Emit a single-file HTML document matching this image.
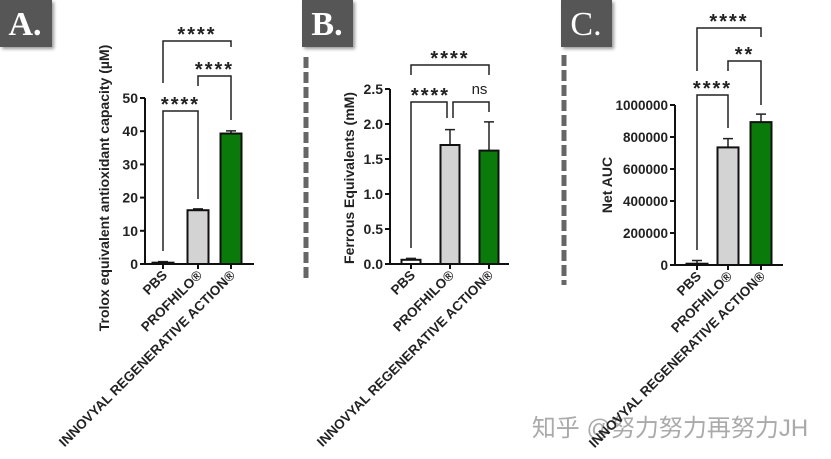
<!DOCTYPE html>
<html><head><meta charset="utf-8"><style>
body{margin:0;width:831px;height:459px;background:#fff;overflow:hidden;font-family:"Liberation Sans",sans-serif}
svg{position:absolute;left:0;top:0}
</style></head><body>
<svg id="s" width="831" height="459">
<defs><filter id="sh" x="-20%" y="-20%" width="150%" height="150%"><feDropShadow dx="2" dy="2" stdDeviation="1.5" flood-color="#000" flood-opacity="0.4"/></filter></defs>
<g><rect x="0" y="0" width="52" height="47" fill="#575757" filter="url(#sh)"/><text x="25" y="35" fill="#fff" font-family="Liberation Serif,serif" font-size="34" font-weight="bold" text-anchor="middle">A.</text></g>
<g><rect x="302" y="0" width="51" height="47" fill="#575757" filter="url(#sh)"/><text x="327" y="35" fill="#fff" font-family="Liberation Serif,serif" font-size="34" font-weight="bold" text-anchor="middle">B.</text></g>
<g><rect x="561" y="0" width="51" height="47" fill="#575757" filter="url(#sh)"/><text x="586" y="35" fill="#fff" font-family="Liberation Serif,serif" font-size="34" text-anchor="middle">C.</text></g>
<line x1="306" y1="57" x2="306" y2="282" stroke="#666" stroke-width="5" stroke-dasharray="11,4"/>
<line x1="564" y1="55" x2="564" y2="285" stroke="#666" stroke-width="5" stroke-dasharray="11,4"/>
<text x="670" y="436" fill="#aaa" font-size="24" text-anchor="middle" font-family="Liberation Sans,'Noto Sans CJK SC',sans-serif">知乎 @努力努力再努力JH</text>
</svg>
<script>
const categories=["PBS","PROFHILO®","INNOVYAL REGENERATIVE ACTION®"];
const colors=["#ffffff","#d3d3d3","#0a7a0a"];
const aValues=[0.4,16.2,39.3];
const aErrors=[0.3,0.4,0.8];
const aTicks=[0,10,20,30,40,50];
const bValues=[0.06,1.70,1.62];
const bErrors=[0.02,0.22,0.41];
const bTicks=["0.0","0.5","1.0","1.5","2.0","2.5"];
const cValues=[8000,735000,893000];
const cErrors=[20000,55000,50000];
const cTicks=[0,200000,400000,600000,800000,1000000];
const aSig=[[0,1,"****"],[1,2,"****"],[0,2,"****"]];
const bSig=[[0,1,"****"],[1,2,"ns"],[0,2,"****"]];
const cSig=[[0,1,"****"],[1,2,"**"],[0,2,"****"]];
const NS="http://www.w3.org/2000/svg";
const svg=document.getElementById('s');
function mk(t,a,p){const e=document.createElementNS(NS,t);for(const k in a)e.setAttribute(k,a[k]);(p||svg).appendChild(e);return e;}
function panel(cfg){
 const g=mk('g',{});
 
 
 const ymax=+cfg.ticks[cfg.ticks.length-1];
 const y=v=>cfg.y0-(v/ymax)*(cfg.y0-cfg.ytop);
 const x=i=>cfg.xc[i];
 const ax=mk('path',{d:`M${cfg.ax},${cfg.ytop}V${cfg.y0}H${cfg.axEnd}`,stroke:'#111','stroke-width':2,fill:'none'},g);
 
 
 cfg.ticks.forEach(t=>{
  const yy=y(+t);
  mk('line',{x1:cfg.ax-5,x2:cfg.ax,y1:yy,y2:yy,stroke:'#111','stroke-width':2},g);
  const tx=mk('text',{x:cfg.ax-7,y:yy+5,'text-anchor':'end','font-size':cfg.tfs||14,'font-weight':'bold',fill:'#222'},g);
  tx.textContent=t;
  
  
 });
 const tt=mk('text',{transform:`translate(${cfg.titleX},${cfg.titleY}) rotate(-90)`,'text-anchor':'middle','font-size':14,'font-weight':'bold',fill:'#222'},g);
 tt.textContent=cfg.title;
 
 
 cfg.values.forEach((v,i)=>{
  const w=cfg.bw,top=y(v),xc=x(i);
  const eb=mk('path',{d:`M${xc},${top}V${y(v+cfg.errors[i])}M${xc-5},${y(v+cfg.errors[i])}H${xc+5}`,stroke:'#222','stroke-width':1.5,fill:'none'},g);
  
  
  const r=mk('rect',{x:xc-w/2,y:top,width:w,height:cfg.y0-top,fill:colors[i],stroke:'#111','stroke-width':2},g);
  
  
  mk('line',{x1:xc,x2:xc,y1:cfg.y0,y2:cfg.y0+5,stroke:'#111','stroke-width':2},g);
  const lb=mk('text',{transform:`translate(${xc+5},${cfg.y0+12}) rotate(-45)`,'text-anchor':'end','font-size':13.5,'font-weight':'bold',fill:'#222'},g);
  lb.textContent=categories[i];
  
  
 });
 cfg.sig.forEach((s,k)=>{
  const b=cfg.br[k];
  const br=mk('path',{d:`M${x(s[0])+(b[3]||0)},${b[1]}V${b[0]}H${x(s[1])+(b[4]||0)}V${b[2]}`,stroke:'#222','stroke-width':1.5,fill:'none'},g);
  
  
  const st=mk('text',{x:(x(s[0])+x(s[1]))/2+(s[2]=='ns'?10:0),y:b[0]-(s[2]=='ns'?8:0),'text-anchor':'middle','font-size':s[2]=='ns'?15:20,'font-weight':s[2]=='ns'?'normal':'bold','letter-spacing':s[2]=='ns'?0:2,fill:'#222'},g);
  st.textContent=s[2];
  
  
 });
}
panel({name:'chart-a',values:aValues,errors:aErrors,ticks:aTicks,sig:aSig,ax:145,axEnd:254,y0:264,ytop:98,xc:[163,198,231],bw:21,title:'Trolox equivalent antioxidant capacity (µM)',titleX:109,titleY:188,
 br:[[111,251,199],[76,86,120],[41,83,47]]});
panel({name:'chart-b',values:bValues,errors:bErrors,ticks:bTicks,sig:bSig,ax:390,axEnd:509,y0:264,ytop:89,xc:[411,450,489],bw:19,title:'Ferrous Equivalents (mM)',titleX:354,titleY:178,
 br:[[102,248,118,0,-3],[102,118,112,3,0],[65,75,75]]});
panel({name:'chart-c',values:cValues,errors:cErrors,ticks:cTicks,sig:cSig,ax:675,axEnd:783,y0:265,ytop:105,xc:[697,728,761],bw:21,tfs:13.5,title:'Net AUC',titleX:612,titleY:185,
 br:[[95,250,128],[61,71,105],[28,71,37]]});
</script>
</body></html>
